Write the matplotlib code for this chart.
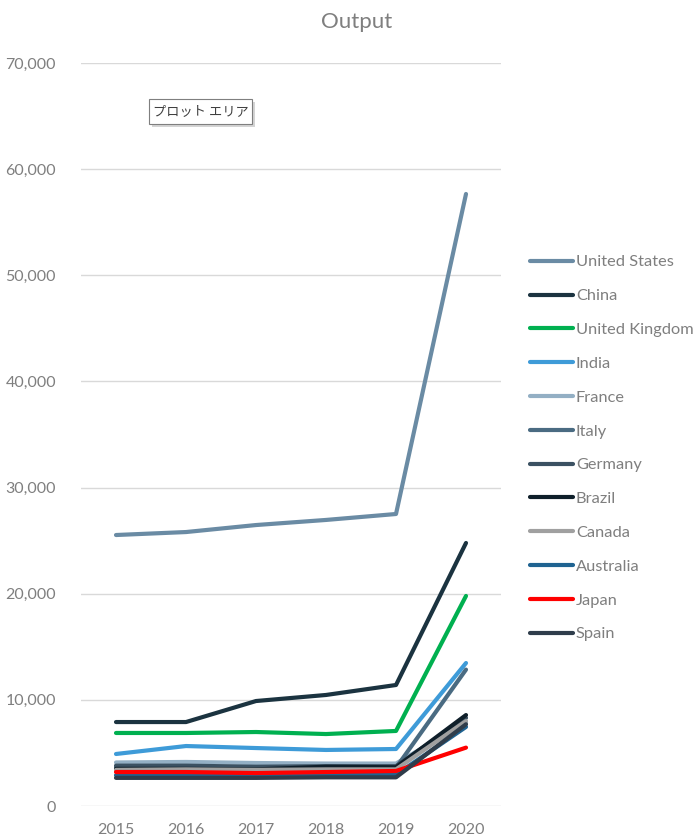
import matplotlib
matplotlib.use("Agg")
import matplotlib.pyplot as plt
from matplotlib.patches import Rectangle

years = ["2015", "2016", "2017", "2018", "2019", "2020"]
countries = ["United States", "China", "United Kingdom", "India", "France", "Italy",
             "Germany", "Brazil", "Canada", "Australia", "Japan", "Spain"]
us = [25530, 25810, 26470, 26950, 27510, 57660]
china = [7910, 7910, 9890, 10460, 11400, 24780]
uk = [6880, 6880, 6970, 6780, 7070, 19790]
india = [4900, 5650, 5460, 5280, 5370, 13470]
france = [4100, 4150, 4050, 4000, 4000, 7900]
italy = [3650, 3650, 3600, 3650, 3600, 12850]
germany = [3800, 3800, 3700, 3750, 3750, 8300]
brazil = [3500, 3500, 3450, 3700, 3650, 8570]
canada = [3400, 3450, 3400, 3450, 3450, 8000]
japan = [3200, 3200, 3100, 3200, 3300, 5500]
australia = [2900, 2900, 2850, 2950, 2950, 7450]
spain = [2650, 2650, 2650, 2700, 2700, 7700]
series = [us, china, uk, india, france, italy, germany, brazil, canada, australia, japan, spain]
colors = ['#6A8BA4', '#1B3340', '#00B050', '#3E9BD8', '#93AFC4', '#4A6B82',
          '#3B5162', '#0F1F2A', '#A0A0A0', '#1F6391', '#FF0000', '#2F3D4B']

plt.rcParams['font.family'] = ['Lato', 'DejaVu Sans']
fig = plt.figure(figsize=(6.96, 8.38), dpi=100)
W, H = 696, 838
ax = fig.add_axes([81 / W, 1 - 806 / H, 420 / W, (806 - 63) / H])

x = list(range(len(years)))
for name, vals, c in zip(countries, series, colors):
    ax.plot(x, vals, color=c, lw=3.0, solid_capstyle='round', solid_joinstyle='round', label=name)

ax.set_xlim(-0.5, 5.5)
ax.set_ylim(0, 70000)
ax.set_yticks(range(0, 70001, 10000))
ax.set_yticklabels([f"{v:,}" for v in range(0, 70001, 10000)])
ax.set_xticks(x)
ax.set_xticklabels(years)
ax.grid(axis='y', color='#D9D9D9', lw=1.0)
ax.set_axisbelow(True)
for s in ax.spines.values():
    s.set_visible(False)
ax.tick_params(axis='both', length=0, colors='#7F7F7F', labelsize=11.5)
ax.tick_params(axis='y', pad=18)
ax.tick_params(axis='x', pad=12)

fig.text(357 / W, 1 - 22 / H, "Output", ha='center', va='center', fontsize=16, color='#7F7F7F')

# tooltip with shadow
fig.patches.append(Rectangle((152 / W, 1 - 127 / H), 103 / W, 25 / H,
                             transform=fig.transFigure, fc='#D4D4D4', ec='none', zorder=1))
fig.patches.append(Rectangle((149 / W, 1 - 124 / H), 103 / W, 25 / H,
                             transform=fig.transFigure, fc='white', ec='#7F7F7F', lw=0.8, zorder=2))
fig.text(200.5 / W, 1 - 111.5 / H, "プロット エリア", ha='center', va='center', fontsize=9.5,
         color='#404040', family=['Noto Sans CJK JP', 'DejaVu Sans'], zorder=3)

leg = ax.legend(loc='upper left', bbox_to_anchor=(530 / W, 1 - 255 / H),
                bbox_transform=fig.transFigure, frameon=False, fontsize=11.8,
                handlelength=2.6, handletextpad=0.2, labelspacing=1.18,
                borderaxespad=0, borderpad=0)
for t in leg.get_texts():
    t.set_color('#7F7F7F')

fig.savefig("out.png", dpi=100)
